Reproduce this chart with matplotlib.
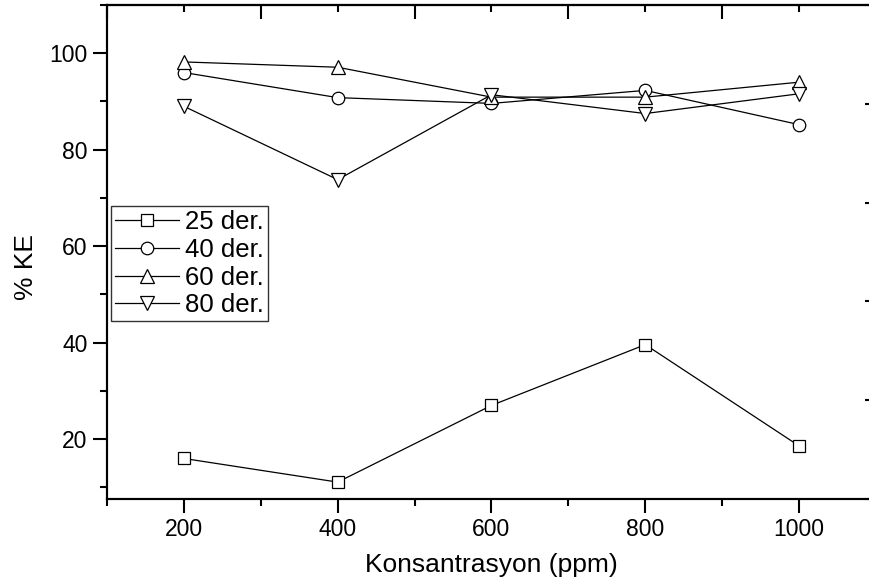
import numpy as np
import matplotlib
matplotlib.use('Agg')
import matplotlib.pyplot as plt
from matplotlib.ticker import MultipleLocator

plt.rcParams['font.family'] = ['Liberation Sans', 'DejaVu Sans']

# concentration (ppm) and removal efficiency (%) at each contact time
konsantrasyon = [200, 400, 600, 800, 1000]
ke_25 = [16.0, 11.1, 27.0, 39.6, 18.6]
ke_40 = [96.0, 90.8, 89.6, 92.3, 85.2]
ke_60 = [98.2, 97.1, 90.9, 90.9, 94.0]
ke_80 = [89.0, 73.8, 91.4, 87.5, 91.6]
etiketler = ['25 der.', '40 der.', '60 der.', '80 der.']

fig = plt.figure(figsize=(8.7, 5.79), dpi=100)
ax = fig.add_axes([107/870, 80/579, 769/870, 494/579])

seriler = [(ke_25, 's', 8), (ke_40, 'o', 9), (ke_60, '^', 10), (ke_80, 'v', 10)]
for (ke, mk, ms), lab in zip(seriler, etiketler):
    ax.plot(konsantrasyon, ke, color='black', lw=0.9, marker=mk, ms=ms,
            mfc='white', mec='black', mew=0.9, label=lab)

ax.set_xlim(100, 1100)
ax.set_ylim(7.6, 110)
ax.xaxis.set_major_locator(MultipleLocator(200))
ax.xaxis.set_minor_locator(MultipleLocator(100))
ax.yaxis.set_major_locator(MultipleLocator(20))
ax.yaxis.set_minor_locator(MultipleLocator(10))
ax.tick_params(which='major', direction='out', length=10, width=1.5, labelsize=16.5, pad=4)
ax.tick_params(which='minor', direction='out', length=5, width=1.5)
ax.tick_params(top=False, right=False, which='both')
for s in ax.spines.values():
    s.set_linewidth(1.5)

# top axis: inward ticks, long on odd hundreds
top = ax.secondary_xaxis('top')
top.xaxis.set_major_locator(MultipleLocator(200, offset=100))
top.xaxis.set_minor_locator(MultipleLocator(100))
top.tick_params(which='major', direction='in', length=10, width=1.5, labeltop=False)
top.tick_params(which='minor', direction='in', length=5, width=1.5)
top.spines['top'].set_linewidth(1.5)

# right axis on its own 10-110 scale, inward ticks
sag = ax.twinx()
sag.set_ylim(10, 110)
sag.yaxis.set_major_locator(MultipleLocator(20, offset=10))
sag.yaxis.set_minor_locator(MultipleLocator(10))
sag.tick_params(which='major', direction='in', length=8, width=1.5, labelright=False)
sag.tick_params(which='minor', direction='in', length=3, width=1.0)
for s in sag.spines.values():
    s.set_linewidth(1.5)

ax.set_xlabel('Konsantrasyon (ppm)', fontsize=19, labelpad=8)
ax.set_ylabel('% KE', fontsize=19)
ax.yaxis.set_label_coords(-0.09, 0.47)

leg = ax.legend(loc='upper left', bbox_to_anchor=(0.005, 0.593), borderaxespad=0,
                fontsize=18.5, frameon=True, fancybox=False, framealpha=1,
                edgecolor='#333333', handlelength=2.5, handletextpad=0.25,
                labelspacing=0.15, borderpad=0.15)
leg.get_frame().set_linewidth(1.0)
leg.set_zorder(5)

fig.savefig('out.png', dpi=100)
